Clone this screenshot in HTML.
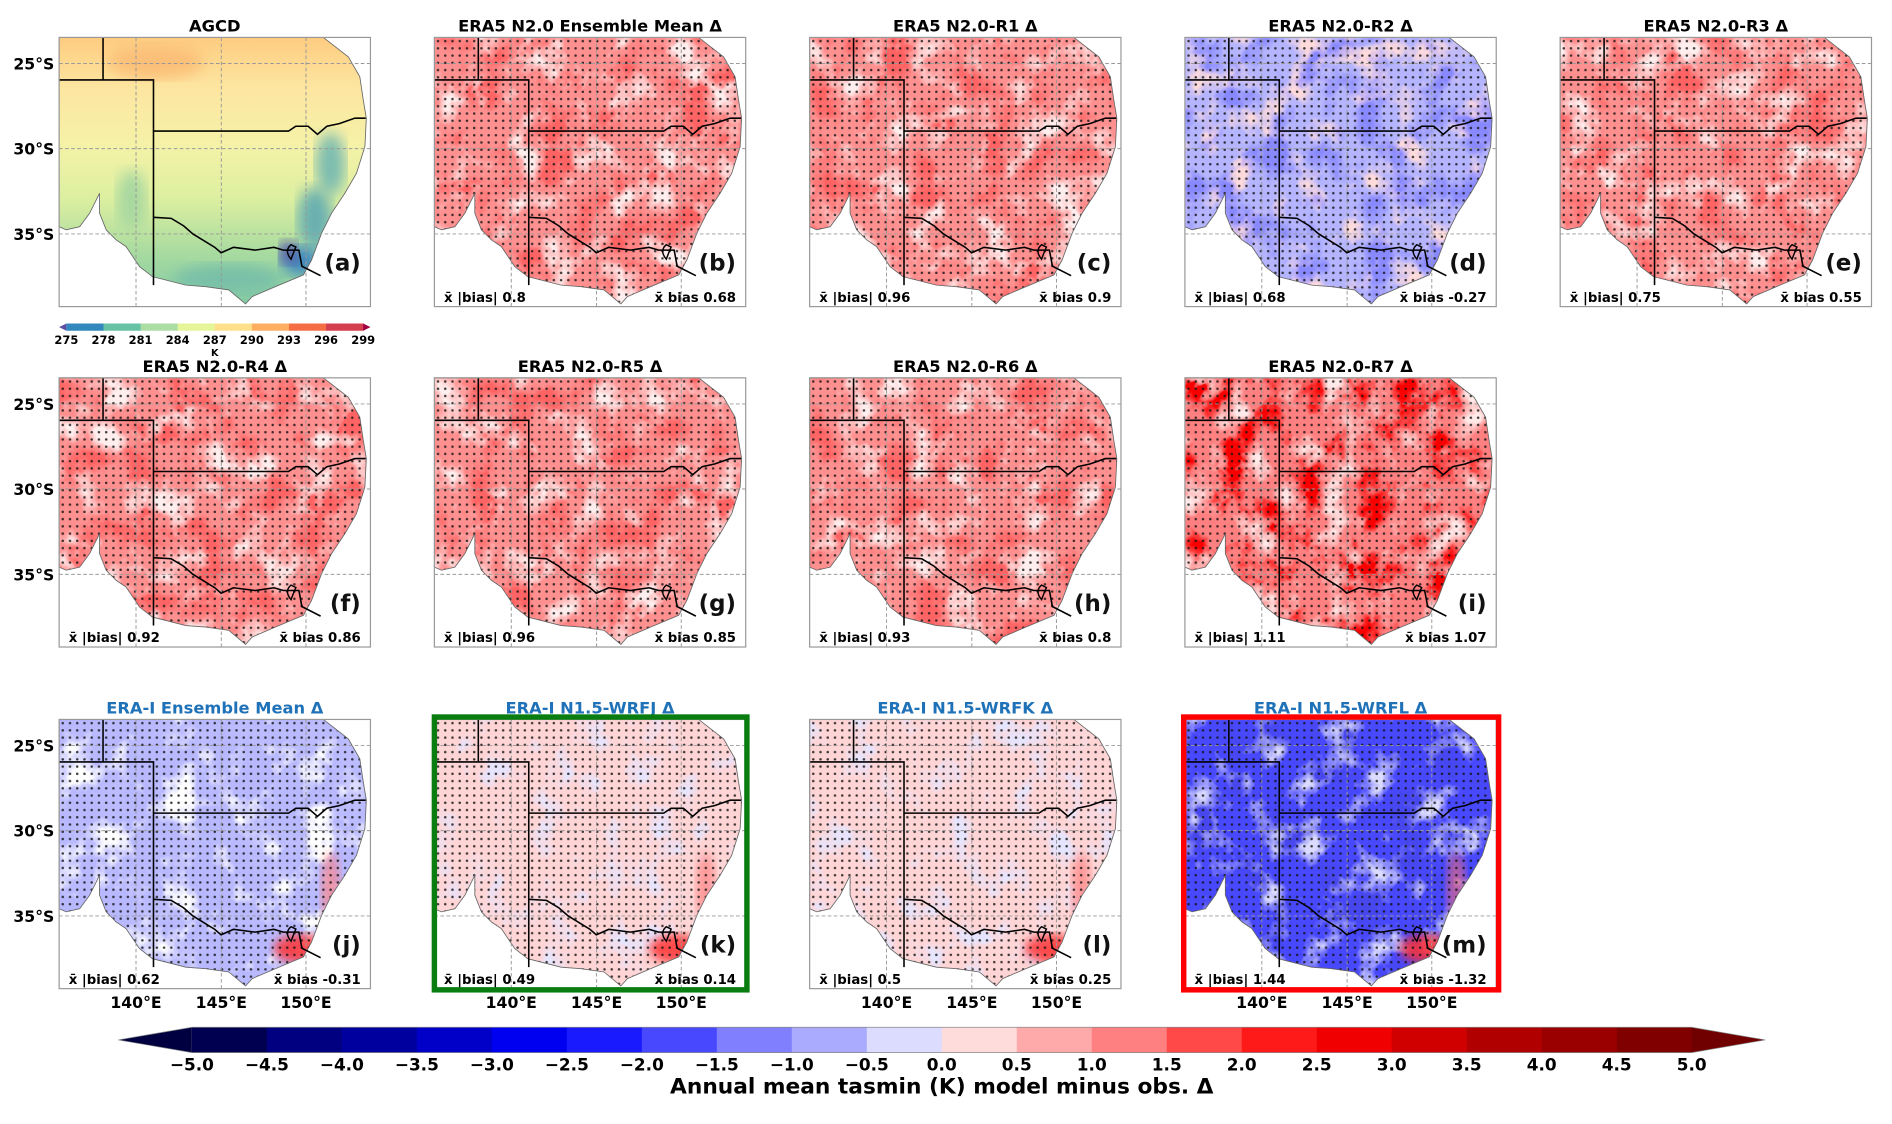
<!DOCTYPE html>
<html><head><meta charset="utf-8">
<style>
html,body{margin:0;padding:0;background:#fff;}
body{width:1892px;height:1119px;overflow:hidden;position:relative;}
#wrap{position:absolute;left:0;top:0;width:1568px;height:927px;transform-origin:0 0;transform:scale(1.20663,1.20712);font-family:"DejaVu Sans","Liberation Sans",sans-serif;}
</style></head>
<body>
<div id="wrap">
<svg id="fig" width="1568" height="927" viewBox="0 0 1568 927" xmlns="http://www.w3.org/2000/svg" font-family="DejaVu Sans, Liberation Sans, sans-serif"></svg>
</div>
<script>
// ---- data ----
const panelTitles = ["AGCD","ERA5 N2.0 Ensemble Mean Δ","ERA5 N2.0-R1 Δ","ERA5 N2.0-R2 Δ","ERA5 N2.0-R3 Δ","ERA5 N2.0-R4 Δ","ERA5 N2.0-R5 Δ","ERA5 N2.0-R6 Δ","ERA5 N2.0-R7 Δ","ERA-I Ensemble Mean Δ","ERA-I N1.5-WRFJ Δ","ERA-I N1.5-WRFK Δ","ERA-I N1.5-WRFL Δ"];
const panelLetters = ["(a)","(b)","(c)","(d)","(e)","(f)","(g)","(h)","(i)","(j)","(k)","(l)","(m)"];
const absBias = [null,0.8,0.96,0.68,0.75,0.92,0.96,0.93,1.11,0.62,0.49,0.5,1.44];
const meanBias = [null,0.68,0.9,-0.27,0.55,0.86,0.85,0.8,1.07,-0.31,0.14,0.25,-1.32];
const latTicks = ["25°S","30°S","35°S"];
const lonTicks = ["140°E","145°E","150°E"];
const cbarTicks = ["−5.0","−4.5","−4.0","−3.5","−3.0","−2.5","−2.0","−1.5","−1.0","−0.5","0.0","0.5","1.0","1.5","2.0","2.5","3.0","3.5","4.0","4.5","5.0"];
const cbarColors = ["#000050","#000080","#00009f","#0000c8","#0000f0","#1a1aff","#4848ff","#8080ff","#aaaaff","#dcdcff","#ffdcdc","#ffaaaa","#ff8080","#ff4848","#ff1a1a","#f00000","#d00000","#b00000","#9a0000","#800000"];
const aTicks = ["275","278","281","284","287","290","293","296","299"];
const aColors = ["#5e4fa2","#3288bd","#66c2a5","#abdda4","#e6f598","#fee08b","#fdae61","#f46d43","#d53e4f","#9e0142"];

// ---- layout ----
const NS="http://www.w3.org/2000/svg";
const svg=document.getElementById('fig');
const colX=[49,360,671,982,1293], rowY=[31,313,596], PW=258, PH=223;
const panelPos=[[0,0],[1,0],[2,0],[3,0],[4,0],[0,1],[1,1],[2,1],[3,1],[0,2],[1,2],[2,2],[3,2]];
const landF=[[0.849,0],[0.929,0.072],[0.966,0.146],[0.977,0.233],[0.987,0.30],[0.982,0.406],[0.955,0.505],[0.918,0.579],[0.875,0.653],[0.843,0.728],[0.811,0.827],[0.785,0.882],[0.694,0.926],[0.62,0.963],[0.599,0.99],[0.545,0.938],[0.471,0.926],[0.407,0.92],[0.30,0.889],[0.258,0.851],[0.215,0.777],[0.183,0.752],[0.151,0.715],[0.13,0.653],[0.13,0.579],[0.098,0.653],[0.066,0.703],[0.023,0.715],[0,0.703],[0,0]];
const styles={ // base, dark, light
 red:["#ff9090","#ff2020","#ffdada"],
 red2:["#ff8080","#f00000","#ffd0d0"],
 mix:["#b4b4ff","#4040ff","#ffb4b4"],
 eiMean:["#b8b8ff","#8080ff","#ffffff"],
 eiPink:["#ffd4d4","#ffaaaa","#c8c8ff"],
 blue:["#4848ff","#1010d8","#b4b4ff"]};
const panelStyle=[null,"red","red","mix","red","red","red","red","red2","eiMean","eiPink","eiPink","blue"];

function el(tag,attrs,parent){const e=document.createElementNS(NS,tag);for(const k in attrs)e.setAttribute(k,attrs[k]);(parent||svg).appendChild(e);return e;}
const defs=el('defs',{});
function txt(x,y,s,attrs,parent){const t=el('text',Object.assign({x:x,y:y},attrs),parent);t.textContent=s;return t;}

panelTitles.forEach((title,i)=>{
  const [c,r]=panelPos[i]; const x0=colX[c], y0=rowY[r];
  const g=el('g',{transform:`translate(${x0},${y0})`});
  
  
  const pts=landF.map(p=>(p[0]*PW).toFixed(1)+','+(p[1]*PH).toFixed(1)).join(' ');
  const cp=el('clipPath',{id:'land'+i},defs); el('polygon',{points:pts},cp);
  const fill=el('g',{'clip-path':`url(#land${i})`},g);
  if(i===0){
    const lg=el('linearGradient',{id:'ag',x1:0,y1:0,x2:0,y2:1},defs);
    [[0,"#fdcc80"],[0.18,"#fde5a0"],[0.4,"#f5f2a8"],[0.6,"#dcefa0"],[0.8,"#a8dba0"],[1,"#80c8a4"]].forEach(s=>el('stop',{offset:s[0],'stop-color':s[1]},lg));
    el('rect',{x:0,y:0,width:PW,height:PH,fill:'url(#ag)'},fill);
    const bl=el('filter',{id:'blur0'},defs); el('feGaussianBlur',{stdDeviation:6},bl);
    [[80,20,40,14,"#fbbf78"],[225,105,12,26,"#7cbcb0"],[212,150,14,26,"#6ab0b0"],[200,185,16,12,"#3f86bf"],[140,200,45,12,"#78c0a8"],[60,135,12,25,"#a8d8a0"],[190,178,7,10,"#5b55a8"]].forEach(e=>el('ellipse',{cx:e[0],cy:e[1],rx:e[2],ry:e[3],fill:e[4],filter:'url(#blur0)'},fill));
  } else {
    const st=styles[panelStyle[i]];
    const f=el('filter',{id:'nz'+i,filterUnits:'userSpaceOnUse',x:0,y:0,width:PW,height:PH},defs);
    el('feTurbulence',{type:'fractalNoise',baseFrequency:'0.035',numOctaves:4,seed:i*7+3,result:'n'},f);
    const h=s=>[parseInt(s.substr(1,2),16)/255,parseInt(s.substr(3,2),16)/255,parseInt(s.substr(5,2),16)/255];
    const d=h(st[1]), l=h(st[2]);
    el('feColorMatrix',{in:'n',type:'matrix',values:`0 0 0 0 ${d[0]} 0 0 0 0 ${d[1]} 0 0 0 0 ${d[2]} 4 0 0 0 -1.95`,result:'dk'},f);
    el('feColorMatrix',{in:'n',type:'matrix',values:`0 0 0 0 ${l[0]} 0 0 0 0 ${l[1]} 0 0 0 0 ${l[2]} 0 -4 0 0 2.0`,result:'lt'},f);
    const m=el('feMerge',{},f); el('feMergeNode',{in:'lt'},m); el('feMergeNode',{in:'dk'},m);
    el('rect',{x:0,y:0,width:PW,height:PH,fill:st[0]},fill);
    el('rect',{x:0,y:0,width:PW,height:PH,fill:'#fff',filter:`url(#nz${i})`},fill);
    if(i>=9){
      const bf=el('filter',{id:'bl'+i},defs); el('feGaussianBlur',{stdDeviation:4},bf);
      el('ellipse',{cx:200,cy:190,rx:22,ry:12,fill:'#ff3030',opacity:0.85,filter:`url(#bl${i})`},fill);
      el('ellipse',{cx:225,cy:140,rx:8,ry:30,fill:'#ff7070',opacity:0.6,filter:`url(#bl${i})`},fill);
    }
    const pat=el('pattern',{id:'dots'+i,width:6,height:6,patternUnits:'userSpaceOnUse'},defs);
    el('circle',{cx:3,cy:3,r:1.05,fill:'#111'},pat);
    el('rect',{x:0,y:0,width:PW,height:PH,fill:`url(#dots${i})`,opacity:0.8},fill);
  }
  el('polygon',{points:pts,fill:'none',stroke:'#666','stroke-width':0.7},g);
  // grid
  const gx=[0.247,0.521,0.793], gy=[0.097,0.413,0.730];
  gx.forEach(v=>el('line',{x1:v*PW,y1:0,x2:v*PW,y2:PH,stroke:'#999','stroke-width':0.8,'stroke-dasharray':'3,2'},g));
  gy.forEach(v=>el('line',{x1:0,y1:v*PH,x2:PW,y2:v*PH,stroke:'#999','stroke-width':0.8,'stroke-dasharray':'3,2'},g));
  // borders
  const bd=a=>a.map(p=>(p[0]*PW).toFixed(1)+','+(p[1]*PH).toFixed(1)).join(' ');
  [[[0.141,0],[0.141,0.158]],[[0,0.158],[0.303,0.158],[0.303,0.92]],[[0.303,0.348],[0.737,0.348],[0.76,0.33],[0.8,0.33],[0.83,0.36],[0.86,0.33],[0.9,0.32],[0.95,0.30],[0.985,0.30]],
   [[0.303,0.668],[0.36,0.672],[0.4,0.70],[0.43,0.73],[0.5,0.78],[0.52,0.80],[0.56,0.78],[0.63,0.79],[0.69,0.78],[0.72,0.79],[0.77,0.79],[0.78,0.85],[0.84,0.885]]]
   .forEach(b=>el('polyline',{points:bd(b),fill:'none',stroke:'#000','stroke-width':1.3},g));
  el('path',{d:`M${0.745*PW},${0.77*PH} q-6,5 0,12 q3,-8 4,-10 z`,fill:'none',stroke:'#000','stroke-width':1.2},g);
  // frame
  const fr=el('rect',{x:0,y:0,width:PW,height:PH,fill:'none',stroke:'#999','stroke-width':1},g);
  
  
  // title
  const tt=txt(PW/2,-5,title,{'text-anchor':'middle','font-size':13.5,'font-weight':'bold',fill:(i>=9?'#1f72b8':'#000')},g);
  
  
  const lt=txt(PW-8,PH-30,panelLetters[i],{'text-anchor':'end','font-size':19,'font-weight':'bold',fill:'#111'},g);
  
  
  if(absBias[i]!==null){
    const a=txt(8,PH-4,'x̄  |bias|  '+absBias[i],{'font-size':11,'font-weight':'bold',fill:'#000'},g);
    
    
    const b=txt(PW-8,PH-4,'x̄ bias '+meanBias[i],{'text-anchor':'end','font-size':11,'font-weight':'bold',fill:'#000'},g);
    
    
  }
  if(c===0){
    gy.forEach((v,k)=>{const t=txt(-4,v*PH+5,latTicks[k],{'text-anchor':'end','font-size':13,'font-weight':'bold'},g);
      
      });
  }
  if(r===2){
    gx.forEach((v,k)=>{const t=txt(v*PW,PH+16,lonTicks[k],{'text-anchor':'middle','font-size':13,'font-weight':'bold'},g);
      
      });
  }
});

// highlight boxes
const gb=el('rect',{x:360,y:594,width:259,height:226,fill:'none',stroke:'#0a7d10','stroke-width':4.5});


const rb=el('rect',{x:981,y:594,width:261,height:226,fill:'none',stroke:'#ff0000','stroke-width':4.5});



// small AGCD colorbar
(function(){
  const g=el('g',{transform:'translate(49,268)'});
  
  
  const W=258,H=6,n=aColors.length, tw=6, bw=(W-2*tw)/ (n-2);
  el('polygon',{points:`0,${H/2} ${tw},0 ${tw},${H}`,fill:aColors[0]},g);
  for(let k=1;k<n-1;k++) el('rect',{x:tw+(k-1)*bw,y:0,width:bw+0.5,height:H,fill:aColors[k]},g);
  el('polygon',{points:`${W},${H/2} ${W-tw},0 ${W-tw},${H}`,fill:aColors[n-1]},g);
  aTicks.forEach((t,k)=>{const x=tw+k*(W-2*tw)/(aTicks.length-1);
    const tx=txt(x,17,t,{'text-anchor':'middle','font-size':9.5,'font-weight':'bold'},g);
    
    });
  const k=txt(W/2,27,'K',{'text-anchor':'middle','font-size':8,'font-weight':'bold'},g);
  
  
})();

// main colorbar
(function(){
  const g=el('g',{});
  
  
  const x0=159,x1=1402,y0=851,y1=872,tipL=98,tipR=1463;
  const nb=cbarTicks.length-1, bw=(x1-x0)/nb;
  el('polygon',{points:`${tipL},${(y0+y1)/2} ${x0},${y0} ${x0},${y1}`,fill:'#000040'},g);
  for(let k=0;k<nb;k++){const r=el('rect',{x:x0+k*bw,y:y0,width:bw+0.5,height:y1-y0,fill:cbarColors[k]},g);
    
    }
  el('polygon',{points:`${tipR},${(y0+y1)/2} ${x1},${y0} ${x1},${y1}`,fill:'#700000'},g);
  el('polygon',{points:`${tipL},${(y0+y1)/2} ${x0},${y0} ${x1},${y0} ${tipR},${(y0+y1)/2} ${x1},${y1} ${x0},${y1}`,fill:'none',stroke:'#888','stroke-width':0.6},g);
  cbarTicks.forEach((t,k)=>{const tx=txt(x0+k*bw,887,t,{'text-anchor':'middle','font-size':14,'font-weight':'bold'},g);
    
    });
  const tl=txt((x0+x1)/2,906,'Annual mean tasmin (K) model minus obs. Δ',{'text-anchor':'middle','font-size':18,'font-weight':'bold'},g);
  
  
})();
</script>
</body></html>
